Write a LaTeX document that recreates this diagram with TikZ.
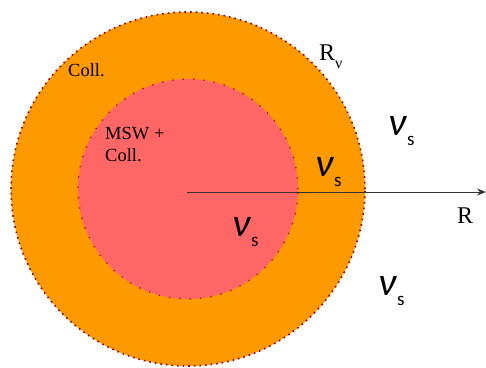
\documentclass[tikz,border=0pt]{standalone}
\usepackage{fontspec}
\usetikzlibrary{arrows.meta}
\setmainfont{Liberation Serif}
\newfontfamily\nufont{Carlito}
\definecolor{ringorange}{HTML}{FF9900}
\definecolor{corepink}{HTML}{FF6666}
\definecolor{outerdot}{HTML}{8B0000}
\definecolor{innerdot}{HTML}{B22222}
\definecolor{axisgray}{HTML}{333333}
\newcommand\nusym{{\nufont\fontsize{40}{40}\selectfont{\itshape ν}\hspace{1pt}\raisebox{-10pt}{\fontsize{19}{19}\selectfont s}}}
\tikzset{
  lbl/.style={inner sep=0pt, anchor=base west},
  small/.style={lbl, font=\fontsize{18.5}{22}\selectfont},
  big/.style={lbl, font=\fontsize{24}{24}\selectfont},
}
\begin{document}
\begin{tikzpicture}[x=1pt,y=-1pt]
\useasboundingbox (0,0) rectangle (486,367);
\coordinate (c) at (188,189);
\node[circle, minimum size=354pt, inner sep=0pt, fill=ringorange, draw=outerdot, line width=1.6pt, dash pattern=on 1.6pt off 4pt] (outer) at (c) {};
\node[circle, minimum size=220pt, inner sep=0pt, fill=corepink, draw=innerdot, line width=1.4pt, dash pattern=on 1.4pt off 9pt] (inner) at (c) {};
\coordinate (a0) at (187,192);
\coordinate (a1) at (486,192);
\draw[axisgray, line width=1pt, -{Stealth[length=9pt,width=7pt]}] (a0) -- (a1);
\node[small] (coll) at (68,76) {Coll.};
\node[small] (msw) at (105,139) {MSW +};
\node[small] (msw2) at (105,161) {Coll.};
\node[big] (rnu) at (319,60) {R\raisebox{-8pt}{\fontsize{16}{16}\selectfont ν}};
\node[big] (raxis) at (457,223) {R};
\node[lbl] (nu1) at (388,135) {\nusym};
\node[lbl] (nu2) at (315,176) {\nusym};
\node[lbl] (nu3) at (232,236) {\nusym};
\node[lbl] (nu4) at (378,295) {\nusym};
\end{tikzpicture}
\end{document}
